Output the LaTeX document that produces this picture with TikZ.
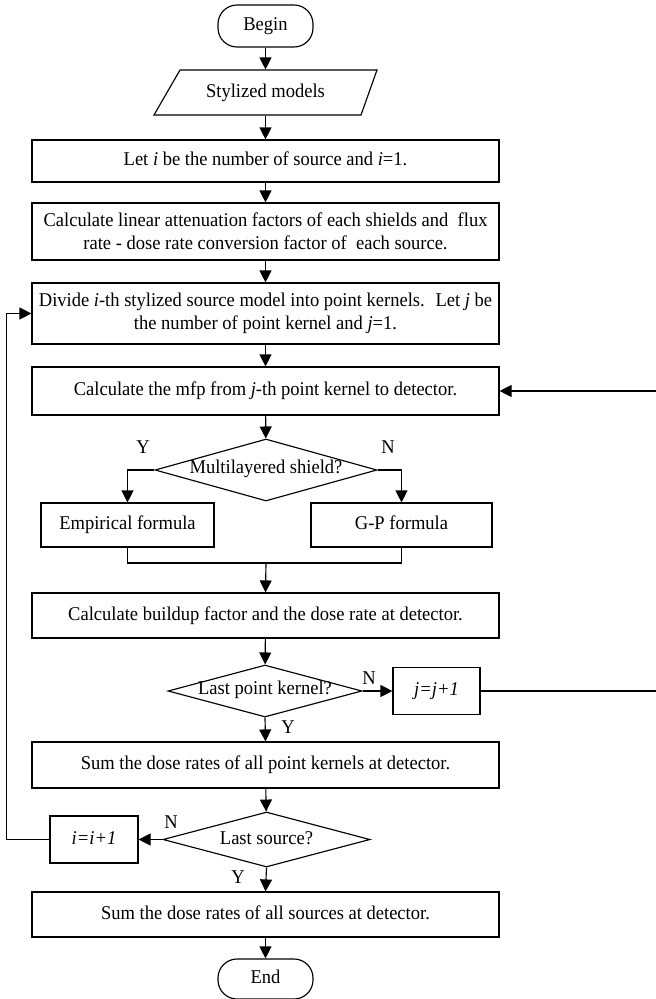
\documentclass[tikz,border=0pt]{standalone}
\usepackage{fontspec}
\setmainfont{Liberation Serif}[FakeStretch=0.95]
\usetikzlibrary{arrows.meta,shapes.geometric}
\begin{document}
\begin{tikzpicture}[x=1pt,y=-1pt,
  font=\fontsize{19.5}{23}\selectfont,
  line width=1.15pt,
  >={Triangle[length=12pt,width=12pt]},
  box/.style={draw, rectangle, inner sep=0pt, align=center},
  one/.style={text height=13pt, text depth=4pt},
  wide/.style={box, minimum width=467pt},
  term/.style={draw, rounded corners=19pt, minimum width=95pt, inner sep=0pt, one},
  dec/.style={draw, diamond, inner sep=0pt, aspect=3.5},
  lbl/.style={inner sep=0pt}
]
\useasboundingbox (0,0) rectangle (656,999);
% nodes
\node[term, minimum height=42pt] (begin) at (265.5,26) {Begin};
\node[lbl, one, minimum width=190pt, minimum height=45pt] (sm) at (265.5,92.5) {Stylized models};
\draw (154,115) -- (180,70) -- (377,70) -- (361,115) -- cycle;
\node[wide, one, minimum height=42pt] (leti) at (265.5,161) {Let \textit{i} be the number of source and \textit{i}=1.};
\node[wide, minimum height=57pt] (calc) at (265.5,231.5) {Calculate linear attenuation factors of each shields and~ flux\\rate - dose rate conversion factor of~ each source.};
\node[wide, minimum height=61pt] (div) at (265.5,313.5) {Divide \textit{i}-th stylized source model into point kernels.~ Let \textit{j} be\\the number of point kernel and \textit{j}=1.};
\node[wide, one, minimum height=48pt] (mfp) at (265.5,391) {Calculate the mfp from \textit{j}-th point kernel to detector.};
\node[dec, minimum width=222pt, minimum height=62pt] (d1) at (266,470) {};
\node[lbl, one] (d1t) at (266,469) {Multilayered shield?};
\node[box, one, minimum width=173pt, minimum height=44pt] (emp) at (127.5,525) {Empirical formula};
\node[box, one, minimum width=181pt, minimum height=44pt] (gp) at (401.5,525) {G-P formula};
\coordinate (join) at (266,563);
\node[wide, one, minimum height=45pt] (build) at (265.5,615.5) {Calculate buildup factor and the dose rate at detector.};
\node[dec, minimum width=194pt, minimum height=52pt] (d2) at (265,691) {};
\node[lbl, one] (d2t) at (265,690) {Last point kernel?};
\node[box, one, minimum width=87pt, minimum height=47pt] (jbox) at (436.5,691) {\textit{j=j+1}};
\node[wide, one, minimum height=46pt] (sumpk) at (265.5,765) {Sum the dose rates of all point kernels at detector.};
\node[dec, minimum width=207pt, minimum height=55pt] (d3) at (266.5,839.5) {};
\node[lbl, one] (d3t) at (266.5,839.5) {Last source?};
\node[box, one, minimum width=88pt, minimum height=47pt] (ibox) at (94,839.5) {\textit{i=i+1}};
\node[wide, one, minimum height=45pt] (sumsrc) at (265.5,914.5) {Sum the dose rates of all sources at detector.};
\node[term, minimum height=40pt] (end) at (265.5,979) {End};
% labels
\node[lbl] (y1) at (143,447) {Y};
\node[lbl] (n1) at (388,447) {N};
\node[lbl] (n2) at (369,678) {N};
\node[lbl] (y2) at (288,727) {Y};
\node[lbl] (n3) at (171,822) {N};
\node[lbl] (y3) at (238,877) {Y};
% connectors
\draw[->] (begin) -- (sm);
\draw[->] (sm) -- (leti);
\draw[->] (leti) -- (calc);
\draw[->] (calc) -- (div);
\draw[->] (div) -- (mfp);
\draw[->] (mfp) -- (d1);
\draw[->] (d1.west) -| (emp.north);
\draw[->] (d1.east) -| (gp.north);
\draw (emp.south) |- (join) -| (gp.south);
\draw[->] (join) -- (build.north);
\draw[->] (build) -- (d2);
\draw[->] (d2.east) -- (jbox.west |- d2.east);
\draw[->] (jbox.east) -- ++(180,0) |- (mfp.east);
\draw[->] (d2.south) -- (sumpk.north);
\draw[->] (sumpk) -- (d3);
\draw[->] (d3.west) -- (ibox.east |- d3.west);
\draw[->] (ibox.west) -- ++(-43,0) |- (div.west);
\draw[->] (d3.south) -- (sumsrc.north);
\draw[->] (sumsrc) -- (end);
\end{tikzpicture}
\end{document}
